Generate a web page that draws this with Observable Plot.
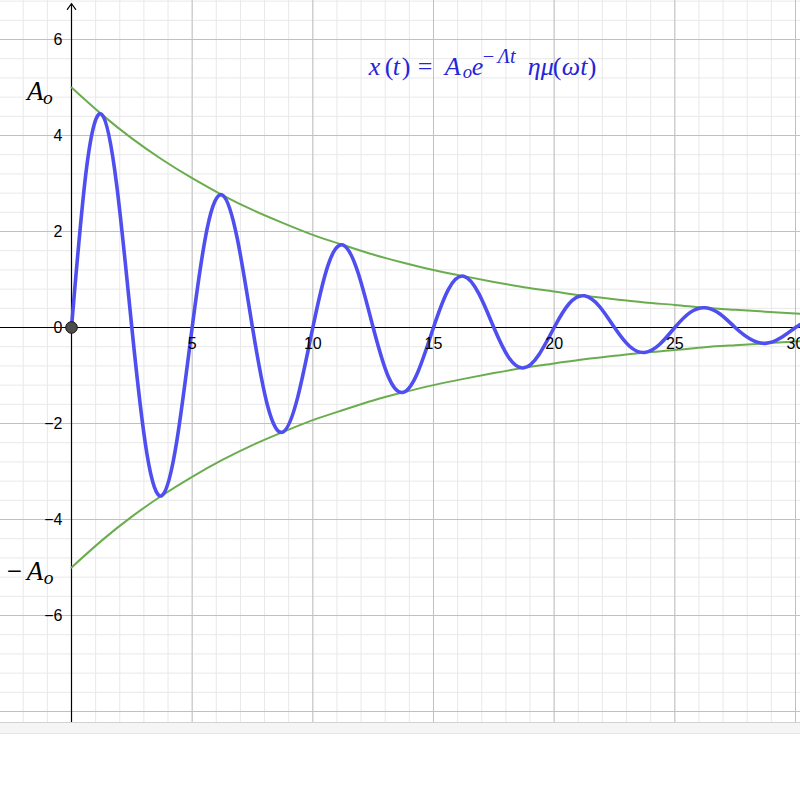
<!DOCTYPE html>
<html><head><meta charset="utf-8">
<script src="https://cdn.jsdelivr.net/npm/d3@7"></script>
<script src="https://cdn.jsdelivr.net/npm/@observablehq/plot@0.6"></script>
<style>
html,body{margin:0;padding:0;background:#fff;overflow:hidden;width:800px;height:800px}
#chart{position:relative;width:800px;height:722px;overflow:hidden}
#bar{height:10px;background:#f5f5f5;border-top:1px solid #d2d2d2;border-bottom:1px solid #e6e6e6}
</style></head><body>
<div id="chart"></div><div id="bar"></div>
<script>
// damped oscillation x(t)
const tValues = [0,0.625,1.25,1.875,2.5,3.125,3.75,4.375,5,5.625,6.25,6.875,7.5,8.125,8.75,9.375,10,10.625,11.25,11.875,12.5,13.125,13.75,14.375,15,15.625,16.25,16.875,17.5,18.125,18.75,19.375,20,20.625,21.25,21.875,22.5,23.125,23.75,24.375,25,25.625,26.25,26.875,27.5,28.125,28.75,29.375,30,30.625];
const xValues = [0,3.33,4.44,2.96,0,-2.63,-3.50,-2.33,0,2.07,2.76,1.84,0,-1.63,-2.18,-1.45,0,1.29,1.72,1.14,0,-1.02,-1.35,-0.90,0,0.80,1.07,0.71,0,-0.63,-0.84,-0.56,0,0.50,0.66,0.44,0,-0.39,-0.52,-0.35,0,0.31,0.41,0.28,0,-0.24,-0.33,-0.22,0,0.19];
// envelope ±A_o e^{-Λt}
const envT = [0,1.25,2.5,3.75,5,6.25,7.5,8.75,10,11.25,12.5,13.75,15,16.25,17.5,18.75,20,21.25,22.5,23.75,25,26.25,27.5,28.75,30,31.25];
const envUpper = [5.00,4.44,3.94,3.50,3.11,2.76,2.45,2.18,1.93,1.72,1.52,1.35,1.20,1.07,0.95,0.84,0.75,0.66,0.59,0.52,0.47,0.41,0.37,0.33,0.29,0.26];
const envLower = [-5.00,-4.44,-3.94,-3.50,-3.11,-2.76,-2.45,-2.18,-1.93,-1.72,-1.52,-1.35,-1.20,-1.07,-0.95,-0.84,-0.75,-0.66,-0.59,-0.52,-0.47,-0.41,-0.37,-0.33,-0.29,-0.26];
const xTickValues = [5,10,15,20,25,30];
const xTickLabels = ["5","10","15","20","25","30"];
const yTickValues = [6,4,2,0,-2,-4,-6];
const yTickLabels = ["6","4","2","0","−2","−4","−6"];
const xMajorGrid = [-5,5,10,15,20,25,30];
const yMajorGrid = [-8,-6,-4,-2,2,4,6];

const wave = tValues.map((t,i)=>({t, v:xValues[i]}));
const env = envT.map((t,i)=>({t, up:envUpper[i], lo:envLower[i]}));
const xMinor = d3.range(-2, 31, 1);
const yMinor = d3.range(-20, 18).map(k => +(k*0.4).toFixed(1));
const xt = xTickValues.map((v,i)=>({v, s:xTickLabels[i]}));
const yt = yTickValues.map((v,i)=>({v, s:yTickLabels[i]}));

const plot = Plot.plot({
  width: 800, height: 722, margin: 0,
  x: {domain: [-2.942, 30.208], axis: null},
  y: {domain: [-8.229, 6.8125], axis: null},
  style: {background: "#fff", overflow: "hidden"},
  marks: [
    Plot.ruleX(xMinor, {stroke: "#e8e8e8", strokeWidth: 1}),
    Plot.ruleY(yMinor, {stroke: "#e8e8e8", strokeWidth: 1}),
    Plot.ruleX(xMajorGrid, {stroke: "#c0c0c0", strokeWidth: 1}),
    Plot.ruleY(yMajorGrid, {stroke: "#c0c0c0", strokeWidth: 1}),
    Plot.ruleY([0], {stroke: "#000", strokeWidth: 1.2}),
    Plot.arrow([{x1: 0, y1: -9, x2: 0, y2: 6.75}], {x1: "x1", y1: "y1", x2: "x2", y2: "y2", stroke: "#000", strokeWidth: 1.2, headLength: 9, headAngle: 70}),
    Plot.line(env, {x: "t", y: "up", curve: "natural", stroke: "#6aad4e", strokeWidth: 2, clip: true}),
    Plot.line(env, {x: "t", y: "lo", curve: "natural", stroke: "#6aad4e", strokeWidth: 2, clip: true}),
    Plot.line(wave, {x: "t", y: "v", curve: "natural", stroke: "#4f4ff0", strokeWidth: 3.6, clip: true}),
    Plot.dot([{t: 0, v: 0}], {x: "t", y: "v", r: 5.8, fill: "#4d4d4d", stroke: "#111", strokeWidth: 1}),
    Plot.text(xt, {x: "v", y: () => 0, text: "s", dy: 16, fontSize: 16, fontFamily: "Liberation Sans", fill: "#000"}),
    Plot.text(yt, {x: () => 0, y: "v", text: "s", dx: -9, textAnchor: "end", fontSize: 16, fontFamily: "Liberation Sans", fill: "#000"})
  ]
});
document.getElementById("chart").appendChild(plot);

const sx = plot.scale("x"), sy = plot.scale("y");
const svg = d3.select(plot);
// parts: text, italic, scale (font), shift (baseline px), off (px from start)
function mathText(t, v, size, color, parts) {
  const x0 = sx.apply(t), y0 = sy.apply(v);
  const el = svg.append("text")
    .attr("text-anchor", "start")
    .attr("fill", color).attr("font-family", "Liberation Serif")
    .attr("font-size", size).style("white-space", "pre");
  for (const p of parts) {
    el.append("tspan").text(p.text)
      .attr("x", x0 + p.off)
      .attr("y", y0 + (p.shift || 0))
      .attr("font-style", p.italic ? "italic" : "normal")
      .attr("font-size", size * (p.scale || 1));
  }
}
mathText(-1.82, 4.73, 27, "#000", [
  {text: "A", italic: true, off: 0},
  {text: "o", italic: true, scale: 0.72, shift: 4, off: 16}
]);
mathText(-2.74, -5.27, 27, "#000", [
  {text: "−", italic: false, off: 2},
  {text: "A", italic: true, off: 22},
  {text: "o", italic: true, scale: 0.72, shift: 4, off: 39}
]);
mathText(12.3, 5.25, 26, "#2626d9", [
  {text: "x", italic: true, off: 1},
  {text: "(", italic: false, off: 17},
  {text: "t", italic: true, off: 25},
  {text: ")", italic: false, off: 34},
  {text: "=", italic: false, off: 50},
  {text: "A", italic: true, off: 77},
  {text: "o", italic: true, scale: 0.72, shift: 3, off: 95},
  {text: "e", italic: true, off: 104},
  {text: "−", italic: false, scale: 0.78, shift: -12, off: 115},
  {text: "Λt", italic: true, scale: 0.78, shift: -12, off: 130},
  {text: "ημ", italic: true, off: 160},
  {text: "(", italic: false, off: 185},
  {text: "ωt", italic: true, off: 194},
  {text: ")", italic: false, off: 220}
]);
</script>
</body></html>
